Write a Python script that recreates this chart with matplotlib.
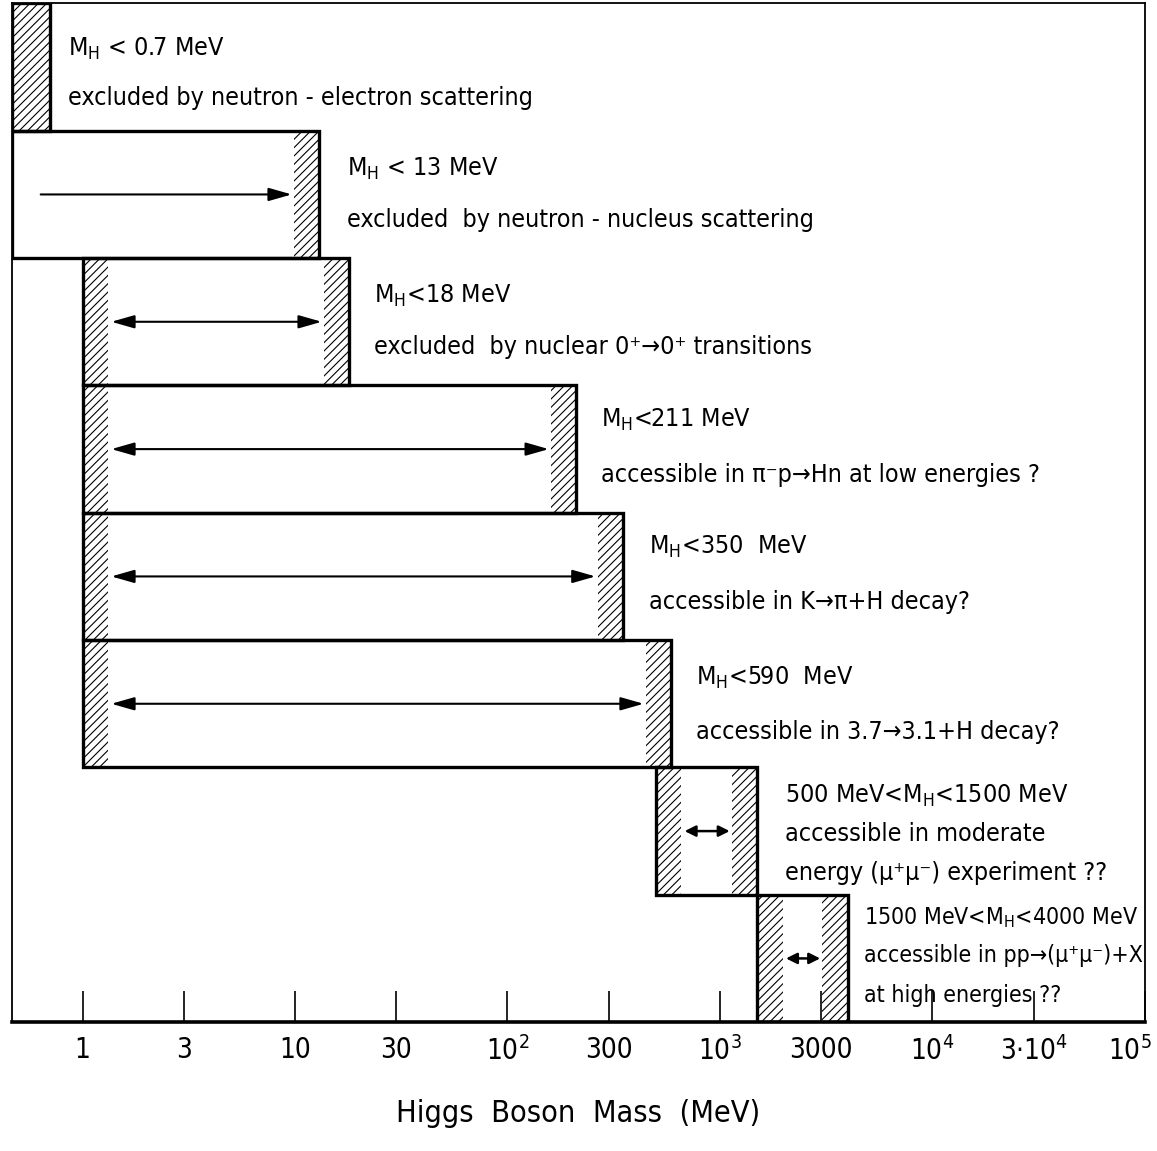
import numpy as np
import matplotlib
matplotlib.use('Agg')
import matplotlib.pyplot as plt
import matplotlib.transforms as mtransforms
from matplotlib.patches import Rectangle
from matplotlib.ticker import NullLocator

plt.rcParams['font.family'] = ['DejaVu Sans']
plt.rcParams['font.stretch'] = 'condensed'
plt.rcParams['mathtext.default'] = 'regular'
plt.rcParams['hatch.linewidth'] = 0.8

# mass windows (MeV); nan = open towards the left end of the axis
lower_mev = [np.nan, np.nan, 1, 1, 1, 1, 500, 1500]
upper_mev = [0.7, 13, 18, 211, 350, 590, 1500, 4000]
hatch_left = [False, False, True, True, True, True, True, True]
arrow_kind = ['', '-|>', '<|-|>', '<|-|>', '<|-|>', '<|-|>', '<|-|>', '<|-|>']

row_text = [
    ['M$_H$ < 0.7 MeV', 'excluded by neutron - electron scattering'],
    ['M$_H$ < 13 MeV', 'excluded  by neutron - nucleus scattering'],
    ['M$_H$<18 MeV', 'excluded  by nuclear 0\u207a\u21920\u207a transitions'],
    ['M$_H$<211 MeV', 'accessible in \u03c0\u207bp\u2192Hn at low energies ?'],
    ['M$_H$<350  MeV', 'accessible in K\u2192\u03c0+H decay?'],
    ['M$_H$<590  MeV', 'accessible in 3.7\u21923.1+H decay?'],
    ['500 MeV<M$_H$<1500 MeV', 'accessible in moderate',
     'energy (\u03bc\u207a\u03bc\u207b) experiment ??'],
    ['1500 MeV<M$_H$<4000 MeV', 'accessible in pp\u2192(\u03bc\u207a\u03bc\u207b)+X',
     'at high energies ??'],
]

tick_vals = [1, 3, 10, 30, 1e2, 300, 1e3, 3000, 1e4, 3e4, 1e5]
tick_labels = ['1', '3', '10', '30', '$10^2$', '300', '$10^3$', '3000',
               '$10^4$', '$3{\\cdot}10^4$', '$10^5$']

XMIN, XMAX = 0.465, 1.0e5
HATCH_DEC = 0.12          # width of the hatched edge strips, in decades
NROW = len(upper_mev)

# text lines inside each row (fraction of row height below its top)
line_frac = ([[0.36, 0.74]] + [[0.3, 0.7]] * 2 + [[0.27, 0.7]] * 2
             + [[0.3, 0.72]] + [[0.22, 0.52, 0.83], [0.18, 0.48, 0.79]])
label_gap = [13, 20, 18, 18, 19, 18, 20, 12]   # points right of the box
label_size = [18] * 7 + [16.6]

fig = plt.figure(figsize=(11.57, 11.51), dpi=100)
ax = fig.add_axes([0.0104, 0.112, 0.979, 0.885])
ax.set_xscale('log')
ax.set_xlim(XMIN, XMAX)
ax.set_ylim(0, NROW)

w = 10 ** HATCH_DEC
for i in range(NROW):
    top = NROW - i
    bot = top - 1
    lo = XMIN if np.isnan(lower_mev[i]) else lower_mev[i]
    hi = upper_mev[i]

    ax.add_patch(Rectangle((lo, bot), hi - lo, 1, fill=False, lw=2.4,
                           ec='k', zorder=3))
    if i == 0:
        strips = [(lo, hi)]
    else:
        strips = [(hi / w, hi)]
        if hatch_left[i]:
            strips.append((lo, lo * w))
    for a, b in strips:
        ax.add_patch(Rectangle((a, bot), b - a, 1, fill=False, hatch='////',
                               lw=0, ec='k', zorder=2))

    if arrow_kind[i]:
        x0 = lo * 10 ** (HATCH_DEC + 0.015)
        x1 = hi / 10 ** (HATCH_DEC + 0.01)
        short = np.log10(x1 / x0) < 0.5
        if short:
            style = arrow_kind[i] + ',head_length=0.5,head_width=0.25'
            ms, lw = 13, 1.8
        else:
            style = arrow_kind[i] + ',head_length=0.7,head_width=0.2'
            ms, lw = 20, 1.5
        ax.annotate('', xy=(x1, bot + 0.5), xytext=(x0, bot + 0.5),
                    arrowprops=dict(arrowstyle=style, color='k', lw=lw,
                                    mutation_scale=ms,
                                    shrinkA=0, shrinkB=0))

    for line, f in zip(row_text[i], line_frac[i]):
        ax.annotate(line, xy=(hi, top - f), xytext=(label_gap[i], 0),
                    textcoords='offset points', ha='left', va='center',
                    fontsize=label_size[i])

ax.set_xticks(tick_vals, tick_labels)
ax.xaxis.set_minor_locator(NullLocator())
ax.tick_params(axis='x', direction='in', length=22, width=1.2, pad=10,
               labelsize=20)
# pull the last label in so it stays on the canvas
last = ax.get_xticklabels()[-1]
last.set_transform(last.get_transform() +
                   mtransforms.ScaledTranslation(-15 / 100, 0,
                                                 fig.dpi_scale_trans))
ax.set_yticks([])
for side in ['left', 'right', 'top']:
    ax.spines[side].set_linewidth(1.3)
ax.spines['bottom'].set_linewidth(2.6)
ax.set_xlabel('Higgs  Boson  Mass  (MeV)', fontsize=22, labelpad=24)

fig.savefig('out.png', dpi=100)
